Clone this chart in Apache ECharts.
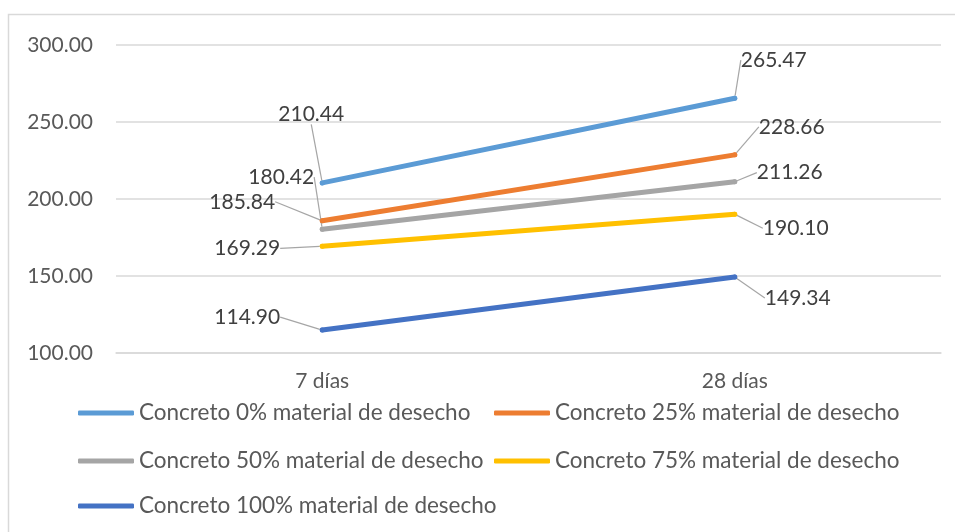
<!DOCTYPE html>
<html>
<head>
<meta charset="utf-8">
<script src="https://cdn.jsdelivr.net/npm/echarts@6/dist/echarts.min.js"></script>
<style>
  html, body { margin: 0; padding: 0; background: #ffffff; }
  #chart { width: 955px; height: 532px; }
</style>
</head>
<body>
<div id="chart"></div>
<script>
// Compressive strength by curing age
const categories = ['7 días', '28 días'];
const seriesNames = [
  'Concreto 0% material de desecho',
  'Concreto 25% material de desecho',
  'Concreto 50% material de desecho',
  'Concreto 75% material de desecho',
  'Concreto 100% material de desecho'
];
const concreto0 = [210.44, 265.47];
const concreto25 = [185.84, 228.66];
const concreto50 = [180.42, 211.26];
const concreto75 = [169.29, 190.10];
const concreto100 = [114.90, 149.34];
const yTicks = { min: 100, max: 300, interval: 50 };

const seriesValues = [concreto0, concreto25, concreto50, concreto75, concreto100];
const colors = ['#5B9BD5', '#ED7D31', '#A5A5A5', '#FFC000', '#4472C4'];

// label offsets (label centre relative to its point), per series, per category
const labelOffsets = [
  [[-11, -69], [39, -38]],
  [[-80, -19], [57, -28]],
  [[-41, -52], [55, -9]],
  [[-75, 2], [61, 14]],
  [[-75, -13], [63, 21]]
];
// legend slots: [left, centre y]
const legendSlots = [[78, 413], [494, 413], [78, 461], [494, 461], [78, 506]];

const FONT = 'Lato';
const chart = echarts.init(document.getElementById('chart'), null, { renderer: 'canvas' });

const series = seriesNames.map((name, i) => ({
  name,
  type: 'line',
  data: seriesValues[i],
  symbol: 'circle',
  symbolSize: 5,
  showSymbol: true,
  lineStyle: { color: colors[i], width: 5, cap: 'round' },
  itemStyle: { color: colors[i] },
  emphasis: { disabled: true },
  label: {
    show: true,
    position: 'inside',
    formatter: p => p.value.toFixed(2),
    color: '#404040',
    fontFamily: FONT,
    fontSize: 21
  },
  labelLine: {
    show: true,
    lineStyle: { color: '#A6A6A6', width: 1.2 }
  },
  labelLayout: params => {
    const off = labelOffsets[i][params.dataIndex];
    const r = params.rect;
    return {
      x: r.x + r.width / 2 + off[0],
      y: r.y + r.height / 2 + off[1],
      align: 'center',
      verticalAlign: 'middle'
    };
  }
}));

const legends = seriesNames.map((name, i) => ({
  data: [name],
  left: legendSlots[i][0],
  top: legendSlots[i][1] - 12,
  padding: 0,
  itemWidth: 56,
  itemHeight: 5,
  icon: 'roundRect',
  selectedMode: false,
  textStyle: { color: '#595959', fontFamily: FONT, fontSize: 22.5, lineHeight: 24 }
}));

chart.setOption({
  animation: false,
  color: colors,
  backgroundColor: '#ffffff',
  graphic: [{
    type: 'rect',
    shape: { x: 8.5, y: 14.5, width: 960, height: 540 },
    style: { fill: 'none', stroke: '#D9D9D9', lineWidth: 1.5 },
    silent: true
  }],
  legend: legends,
  grid: { left: 116, right: 14, top: 45, bottom: 179, containLabel: false },
  xAxis: {
    type: 'category',
    data: categories,
    boundaryGap: true,
    axisLine: { show: true, lineStyle: { color: '#D9D9D9', width: 1.5 } },
    axisTick: { show: false },
    axisLabel: { color: '#595959', fontFamily: FONT, fontSize: 21, margin: 18 }
  },
  yAxis: {
    type: 'value',
    min: yTicks.min,
    max: yTicks.max,
    interval: yTicks.interval,
    axisLine: { show: false },
    axisTick: { show: false },
    splitLine: { lineStyle: { color: '#D9D9D9', width: 1.5 } },
    axisLabel: {
      color: '#595959', fontFamily: FONT, fontSize: 21, margin: 23,
      formatter: v => v.toFixed(2)
    }
  },
  series
});
</script>
</body>
</html>
